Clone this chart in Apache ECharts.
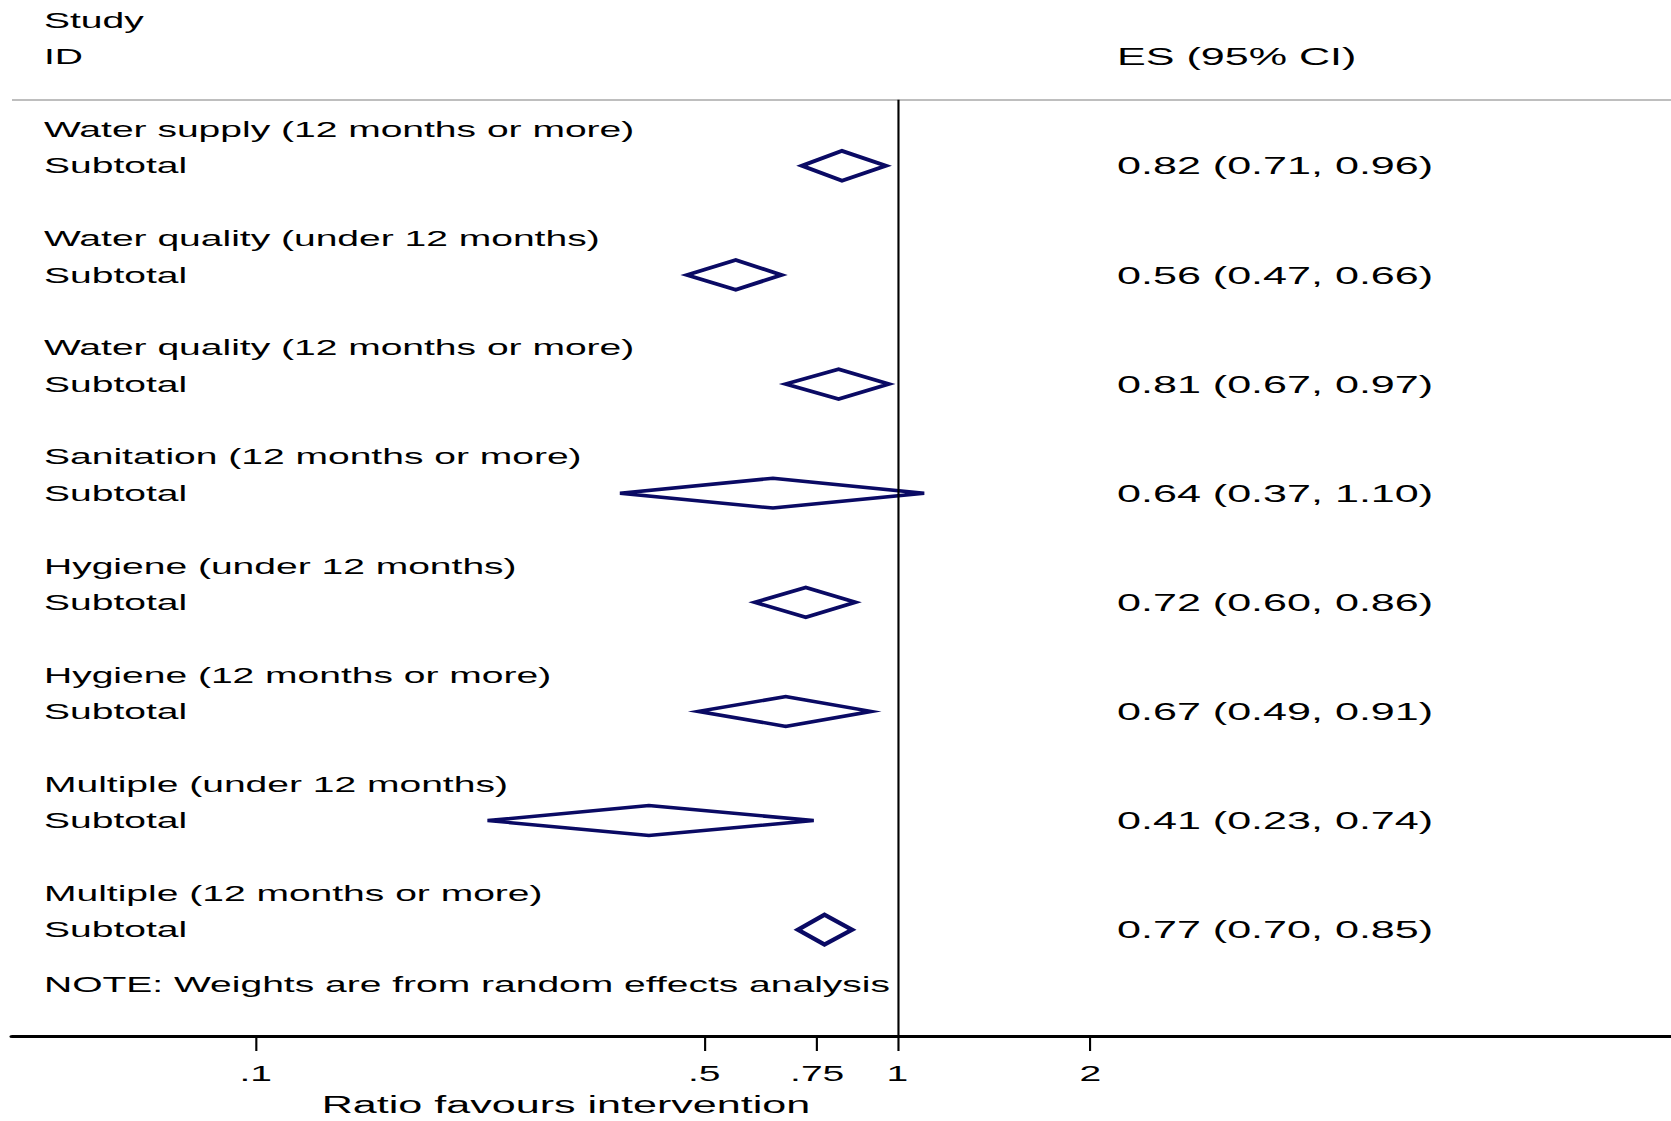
<!DOCTYPE html>
<html>
<head>
<meta charset="utf-8">
<title>Forest plot – subtotals by intervention type</title>
<script src="https://cdn.jsdelivr.net/npm/echarts@6/dist/echarts.min.js"></script>
<style>
  html, body { margin: 0; padding: 0; background: #ffffff; overflow: hidden; }
  #chart { width: 942px; height: 1121px; transform-origin: 0 0; }
</style>
</head>
<body>
<div id="chart"></div>
<script>
// ---- data ----
const groups = [
  'Water supply (12 months or more)',
  'Water quality (under 12 months)',
  'Water quality (12 months or more)',
  'Sanitation (12 months or more)',
  'Hygiene (under 12 months)',
  'Hygiene (12 months or more)',
  'Multiple (under 12 months)',
  'Multiple (12 months or more)'
];
const es = [0.82, 0.56, 0.81, 0.64, 0.72, 0.67, 0.41, 0.77];
const lo = [0.71, 0.47, 0.67, 0.37, 0.60, 0.49, 0.23, 0.70];
const hi = [0.96, 0.66, 0.97, 1.10, 0.86, 0.91, 0.74, 0.85];
const subtotalLabel = 'Subtotal';

const tickValues = [0.1, 0.5, 0.75, 1, 2];
const tickLabels = ['.1', '.5', '.75', '1', '2'];

const headerLeft = ['Study', 'ID'];
const headerRight = 'ES (95% CI)';
const noteText = 'NOTE: Weights are from random effects analysis';
const axisTitle = 'Ratio favours intervention';

// ---- layout (the plot is drawn on a narrower canvas and stretched horizontally) ----
const PAGE_W = 1671, PAGE_H = 1121, BASE_W = 942, S = PAGE_W / BASE_W;
const FONT = "'Liberation Sans', Arial, Helvetica, sans-serif";
const NAVY = '#0a0a64';

const ROW_PX = 36.55;          // height of one text row
const ROW0_PX = 20.4;          // centre of row 0
const AXIS_PX = 1041;          // x axis line
const yMin = -ROW0_PX / ROW_PX;
const yMax = (AXIS_PX - ROW0_PX) / ROW_PX;
const RULE_ROW = (100.2 - ROW0_PX) / ROW_PX;   // grey rule under the header

const DECADE = 641.5 / S;      // pixels per decade on the log scale
const ONE_X = 897.3 / S;       // position of ratio 1
const GRID_LEFT = 12 / S;
const xMin = (GRID_LEFT - ONE_X) / DECADE;
const xMax = (BASE_W - ONE_X) / DECADE;

const LEFT_COL = 44 / S;
const ES_COL = 1117 / S;

const el = document.getElementById('chart');
el.style.transform = 'scaleX(' + S + ')';

const log10 = v => Math.log10(v);
const fmt = v => v.toFixed(2);

// ---- text rows ----
const textItems = [];
textItems.push({ row: 0, x: LEFT_COL, text: headerLeft[0], size: 22 });
textItems.push({ row: 1, x: LEFT_COL, text: headerLeft[1], size: 22 });
textItems.push({ row: 1, x: ES_COL, text: headerRight, size: 24.3 });
groups.forEach((g, i) => {
  const titleRow = 3 + 3 * i;
  textItems.push({ row: titleRow, x: LEFT_COL, text: g, size: 22 });
  textItems.push({ row: titleRow + 1, x: LEFT_COL, text: subtotalLabel, size: 22 });
  textItems.push({
    row: titleRow + 1, x: ES_COL, size: 24.3,
    text: fmt(es[i]) + ' (' + fmt(lo[i]) + ', ' + fmt(hi[i]) + ')'
  });
});
textItems.push({ row: 3 * groups.length + 2.5, x: LEFT_COL, text: noteText, size: 22 });

// ---- diamonds ----
const DIAMOND_HALF = 0.41;  // half height in rows
const diamondData = es.map((v, i) => [log10(lo[i]), log10(v), log10(hi[i]), 4 + 3 * i]);

const chart = echarts.init(el, null, { renderer: 'svg', width: BASE_W, height: PAGE_H });

chart.setOption({
  animation: false,
  backgroundColor: '#ffffff',
  grid: { left: GRID_LEFT, right: 0, top: 0, bottom: PAGE_H - AXIS_PX, containLabel: false },
  xAxis: {
    type: 'value',
    min: xMin,
    max: xMax,
    name: axisTitle,
    nameLocation: 'middle',
    nameGap: 56,
    nameTextStyle: {
      fontFamily: FONT, fontSize: 24.3, color: '#000', lineHeight: 24,
      padding: [0, 2 * ((GRID_LEFT + BASE_W) / 2 - 566 / S), 0, 0]
    },
    axisLine: { show: true, onZero: false, lineStyle: { color: '#000', width: 3 } },
    axisTick: {
      show: true, length: 15, inside: false,
      customValues: tickValues.map(log10),
      lineStyle: { color: '#000', width: 1.2 }
    },
    axisLabel: {
      show: true,
      customValues: tickValues.map(log10),
      margin: 26,
      fontFamily: FONT, fontSize: 22, color: '#000', lineHeight: 22,
      formatter: function (v) {
        let best = 0;
        tickValues.forEach((t, k) => {
          if (Math.abs(log10(t) - v) < Math.abs(log10(tickValues[best]) - v)) best = k;
        });
        return tickLabels[best];
      }
    },
    splitLine: { show: false }
  },
  yAxis: {
    type: 'value', inverse: true, min: yMin, max: yMax, show: false,
    splitLine: { show: false }
  },
  series: [
    {
      type: 'custom',
      name: 'subtotals',
      coordinateSystem: 'cartesian2d',
      encode: { x: [0, 1, 2], y: 3 },
      data: diamondData,
      clip: false,
      z: 3,
      renderItem: function (params, api) {
        const row = api.value(3);
        const pL = api.coord([api.value(0), row]);
        const pT = api.coord([api.value(1), row - DIAMOND_HALF]);
        const pR = api.coord([api.value(2), row]);
        const pB = api.coord([api.value(1), row + DIAMOND_HALF]);
        return {
          type: 'polygon',
          shape: { points: [pL, pT, pR, pB] },
          style: { fill: 'none', stroke: NAVY, lineWidth: 3.5, lineJoin: 'miter' }
        };
      },
      markLine: {
        silent: true,
        symbol: ['none', 'none'],
        label: { show: false },
        emphasis: { disabled: true },
        data: [
          { yAxis: RULE_ROW, lineStyle: { color: '#bebebe', width: 2, type: 'solid' } },
          [
            { coord: [log10(1), RULE_ROW], lineStyle: { color: '#000', width: 1.2, type: 'solid' } },
            { coord: [log10(1), yMax] }
          ]
        ]
      }
    },
    {
      type: 'custom',
      name: 'text',
      coordinateSystem: 'cartesian2d',
      encode: { x: 0, y: 1 },
      data: textItems.map(t => [0, t.row]),
      clip: false,
      silent: true,
      z: 4,
      renderItem: function (params, api) {
        const t = textItems[params.dataIndex];
        const y = api.coord([0, api.value(1)])[1];
        return {
          type: 'text',
          x: t.x,
          y: y,
          style: {
            text: t.text,
            fontFamily: FONT,
            fontSize: t.size,
            fill: '#000',
            align: 'left',
            verticalAlign: 'middle'
          }
        };
      }
    }
  ]
});
</script>
</body>
</html>
